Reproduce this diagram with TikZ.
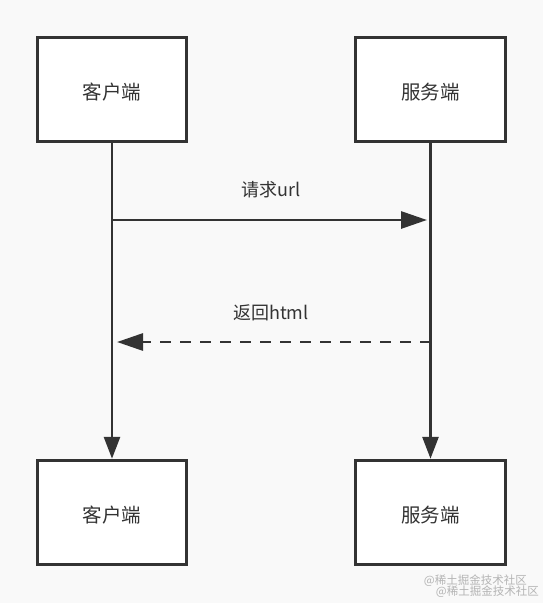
\documentclass[tikz,border=0pt]{standalone}
\usepackage{fontspec}
\newfontfamily\cjk{Noto Sans CJK SC}
\usetikzlibrary{arrows.meta}
\definecolor{ink}{HTML}{333333}
\definecolor{bg}{HTML}{F9F9F9}
\definecolor{wm}{HTML}{B4B4B4}
\tikzset{
  box/.style={draw=ink, line width=3pt, fill=white, minimum width=149.5pt, minimum height=104.5pt, inner sep=0pt, text height=20pt, text depth=0pt, font=\cjk\fontsize{19.5}{21}\selectfont, text=ink},
  conn/.style={draw=ink, line width=2.9pt},
  vtip/.style={-{Triangle[length=22pt,width=16pt]}},
  htip/.style={-{Triangle[length=26pt,width=17pt]}},
  lbl/.style={font=\cjk\fontsize{18}{20}\selectfont, text=ink, inner sep=0pt},
  wmark/.style={font=\cjk\fontsize{11.5}{13}\selectfont, text=wm, inner sep=0pt, anchor=east}
}
\begin{document}
\begin{tikzpicture}[x=1pt,y=-1pt]
\fill[bg] (0,0) rectangle (543,603);
\useasboundingbox (0,0) rectangle (543,603);
\node[box] (c1) at (112,89.5) {客户端};
\node[box] (s1) at (430.5,89.5) {服务端};
\node[box] (c2) at (112,512.5) {客户端};
\node[box] (s2) at (430.5,512.5) {服务端};
\draw[conn, vtip] (c1.south) -- (c2.north);
\draw[conn, vtip] (s1.south) -- (s2.north);
\coordinate (reqA) at (112,220);
\coordinate (reqB) at (427,220);
\coordinate (resA) at (430.5,342);
\coordinate (resB) at (117,342);
\draw[conn, htip] (reqA) -- (reqB);
\draw[conn, htip, dash pattern=on 11pt off 9pt] (resA) -- (resB);
\node[lbl] (l1) at (271,190) {请求url};
\node[lbl] (l2) at (271,313) {返回html};
\node[wmark] (w1) at (527,581) {@稀土掘金技术社区};
\node[wmark] (w2) at (539,592) {@稀土掘金技术社区};
\end{tikzpicture}
\end{document}
